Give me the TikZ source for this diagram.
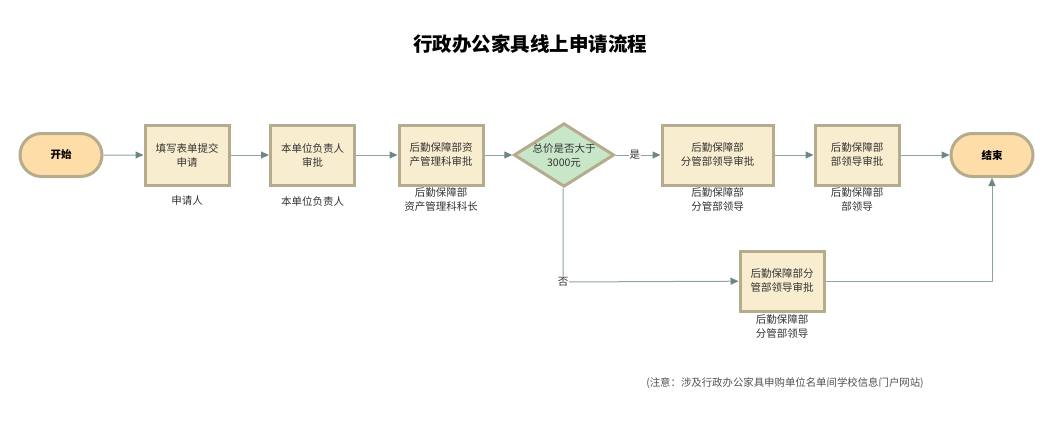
\documentclass[tikz,border=0pt]{standalone}
\usepackage{fontspec}
\setmainfont{Noto Sans CJK SC}
\usetikzlibrary{arrows.meta,shapes.geometric,shapes.misc}
\definecolor{boxfill}{HTML}{F8EDCF}
\definecolor{boxdraw}{HTML}{B5AB8D}
\definecolor{termfill}{HTML}{FFDDA8}
\definecolor{decfill}{HTML}{C8E6C8}
\definecolor{linec}{HTML}{8FA3A5}
\definecolor{tipc}{HTML}{6F8688}
\definecolor{txt}{HTML}{333333}
\begin{document}
\begin{tikzpicture}[x=1pt,y=-1pt,
  stepbox/.style={draw=boxdraw,fill=boxfill,line width=3pt,minimum width=84pt,minimum height=60pt,inner sep=0pt,align=center,font=\fontsize{10.5}{14}\selectfont,text=txt},
  term/.style={draw=boxdraw,fill=termfill,line width=3pt,rounded rectangle,minimum width=82pt,minimum height=43pt,inner sep=0pt,font=\fontsize{10.5}{14}\selectfont\bfseries,text=black},
  dec/.style={draw=boxdraw,fill=decfill,line width=3pt,diamond,aspect=1.58,minimum width=95pt,minimum height=60pt,inner sep=0pt,align=center,font=\fontsize{10.5}{14}\selectfont,text=txt},
  role/.style={align=center,font=\fontsize{10.5}{14}\selectfont,text=txt,inner sep=0pt},
  conn/.style={draw=linec,line width=1pt,-{Triangle[length=8pt,width=7pt,fill=tipc,color=tipc]}},
  lab/.style={fill=white,inner sep=1pt,font=\fontsize{10.5}{12}\selectfont,text=txt}]
\useasboundingbox (0,0) rectangle (1055,428);
\node[font=\fontsize{19.5}{22}\selectfont\bfseries,text=black] (title) at (530,44) {行政办公家具线上申请流程};
\node[term] (start) at (61,155) {开始};
\node[stepbox] (b1) at (187,155) {填写表单提交\\申请};
\node[stepbox] (b2) at (312.5,155) {本单位负责人\\审批};
\node[stepbox] (b3) at (441,155) {后勤保障部资\\产管理科审批};
\node[dec] (d) at (564,155) {总价是否大于\\3000元};
\node[stepbox,minimum width=111pt] (b4) at (717.5,155) {后勤保障部\\分管部领导审批};
\node[stepbox] (b5) at (857,155) {后勤保障部\\部领导审批};
\node[term] (end) at (992,155) {结束};
\node[stepbox] (b6) at (782,281) {后勤保障部分\\管部领导审批};
\node[role] (r1) at (187,201) {申请人};
\node[role] (r2) at (312.5,201) {本单位负责人};
\node[role] (r3) at (441,200) {后勤保障部\\资产管理科科长};
\node[role] (r4) at (717.5,200) {后勤保障部\\分管部领导};
\node[role] (r5) at (857,200) {后勤保障部\\部领导};
\node[role] (r6) at (782,327) {后勤保障部\\分管部领导};
\node[font=\fontsize{10.4}{12}\selectfont,text=txt!85] (note) at (785,383) {(注意：涉及行政办公家具申购单位名单间学校信息门户网站)};
\coordinate (c1) at (563,282);
\coordinate (c2) at (992,281);
\draw[conn] (start) -- (b1);
\draw[conn] (b1) -- (b2);
\draw[conn] (b2) -- (b3);
\draw[conn] (b3) -- (d);
\draw[conn] (d) -- node[lab,pos=0.43] (yes) {是} (b4);
\draw[conn] (b4) -- (b5);
\draw[conn] (b5) -- (end);
\draw[conn] (d.south -| c1) -- (c1) -- (b6);
\node[lab] (no) at (c1) {否};
\draw[conn] (b6) -- (c2) -- (end.south);
\end{tikzpicture}
\end{document}
